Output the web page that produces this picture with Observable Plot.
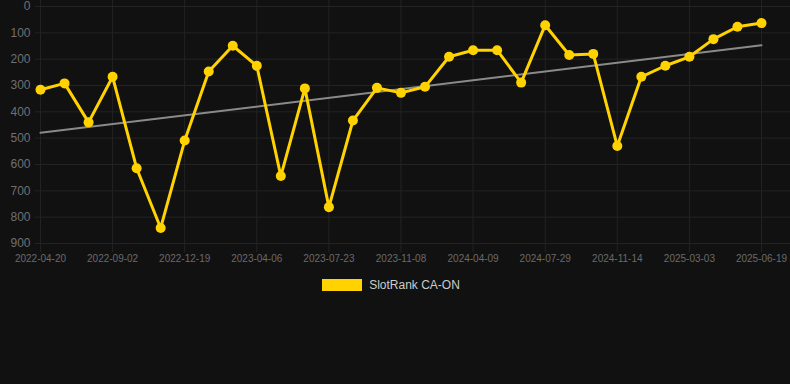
<!DOCTYPE html>
<html>
<head>
<meta charset="utf-8">
<script src="https://cdn.jsdelivr.net/npm/d3@7"></script>
<script src="https://cdn.jsdelivr.net/npm/@observablehq/plot@0.6"></script>
<style>
  html, body { margin: 0; padding: 0; background: #111111; }
  body { width: 790px; height: 384px; overflow: hidden; font-family: "Liberation Sans", Arial, sans-serif; }
  #legend { display: flex; justify-content: center; align-items: center; margin-top: 8px; padding-right: 8px; color: #cccccc; font-size: 12px; }
  #legend .sw { width: 40px; height: 12px; background: #FFD200; margin-right: 7px; }
</style>
</head>
<body>
<div id="chart"></div>
<div id="legend"><span class="sw"></span><span>SlotRank CA-ON</span></div>
<script>
// Rank values (lower is better), one per observation, in order
const ranks = [316, 292, 440, 267, 614, 841, 509, 247, 149, 225,
               644, 311, 762, 433, 309, 328, 305, 191, 166, 166,
               289, 71, 184, 180, 530, 267, 225, 191, 124, 77, 63];
// Date labels shown on the x axis (every third observation)
const tickLabels = ["2022-04-20", "2022-09-02", "2022-12-19", "2023-04-06", "2023-07-23",
                    "2023-11-08", "2024-04-09", "2024-07-29", "2024-11-14", "2025-03-03", "2025-06-19"];
const yTicks = [0, 100, 200, 300, 400, 500, 600, 700, 800, 900];
const seriesName = "SlotRank CA-ON";

const data = ranks.map((v, i) => ({i, v}));
const tickIdx = tickLabels.map((_, k) => k * 3);

const W = 790, H = 270;
const chart = Plot.plot({
  width: W,
  height: H,
  marginLeft: 35,
  marginRight: 0,
  marginTop: 0,
  marginBottom: 27,
  style: {background: "#111111", color: "#666666", fontFamily: "Liberation Sans, Arial, sans-serif"},
  x: {type: "linear", domain: [-0.208, ranks.length - 1 + 1.207], label: null},
  y: {domain: [0, 900], range: [6, 243], label: null},
  marks: [
    Plot.ruleY(yTicks, {y: d => d, stroke: "#232323", strokeWidth: 1}),
    Plot.ruleX(tickIdx, {x: d => d, stroke: "#232323", strokeWidth: 1}),
    Plot.axisX({ticks: tickIdx, tickFormat: d => tickLabels[d / 3], tickSize: 9, stroke: "#232323",
                tickPadding: 2, fontSize: 10, fill: "#6a6a6a", label: null}),
    Plot.axisY({ticks: yTicks, tickSize: 0, tickPadding: 5, fontSize: 12, fill: "#707070", label: null}),
    Plot.linearRegressionY(data, {x: "i", y: "v", stroke: "#8a8a8a", strokeWidth: 2, ci: 0}),
    Plot.line(data, {x: "i", y: "v", stroke: "#FFD200", strokeWidth: 3, curve: "linear"}),
    Plot.dot(data, {x: "i", y: "v", fill: "#FFD200", r: 5, stroke: "none"})
  ]
});
document.getElementById("chart").appendChild(chart);
</script>
</body>
</html>
